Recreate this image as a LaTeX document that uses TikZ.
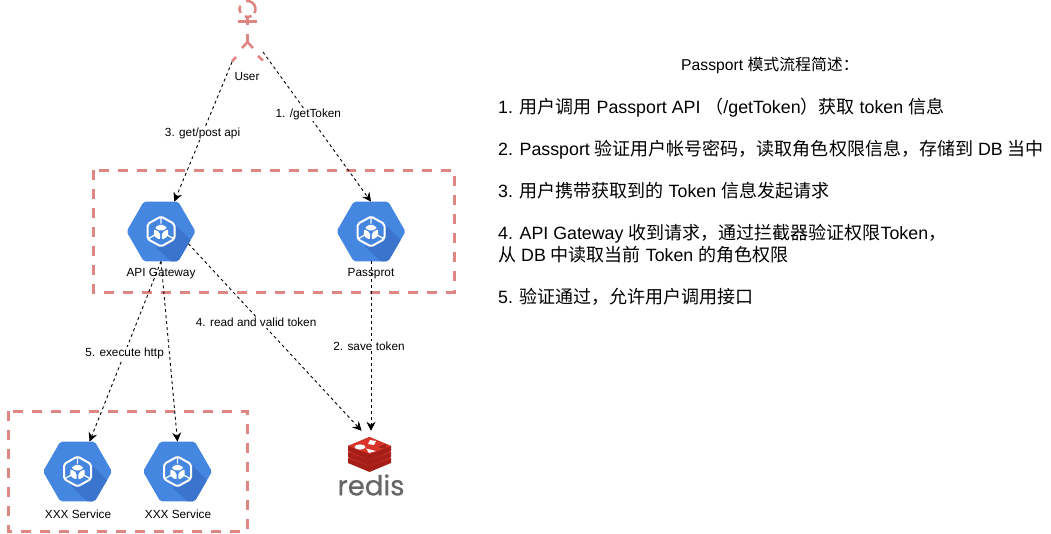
\documentclass[tikz,border=0pt]{standalone}
\usepackage{fontspec}
\setmainfont{Liberation Sans}
\newfontfamily\cjk[Scale=1.012]{Noto Sans CJK SC}
\newfontfamily\logofont[FakeBold=0.5]{Poppins}
\usetikzlibrary{shapes.geometric}
\usetikzlibrary{arrows.meta,positioning}
\definecolor{dashred}{HTML}{DF8682}
\definecolor{hexblue}{HTML}{4586E0}
\definecolor{hexdark}{HTML}{3B74CC}
\definecolor{logored}{HTML}{D8352A}
\definecolor{logodark}{HTML}{A51E18}
\newcommand{\zh}[1]{{\cjk #1}}
\tikzstyle{hex node}=[regular polygon, regular polygon sides=6, minimum size=69pt, inner sep=0pt, outer sep=0pt, fill=hexblue, rounded corners=2pt,
  path picture={
    \begin{scope}[shift={(path picture bounding box.center)}]
      \fill[hexdark] (15,-6) -- (45,24) -- (25,44) -- (-6,15) -- cycle;
      \fill[hexblue] (0,-15) -- (13.5,-7.5) -- (13.5,7.5) -- (0,15) -- (-13.5,7.5) -- (-13.5,-7.5) -- cycle;
      \draw[white, line width=2pt, line join=round] (0,-15) -- (13.5,-7.5) -- (13.5,7.5) -- (0,15) -- (-13.5,7.5) -- (-13.5,-7.5) -- cycle;
      \draw[white, line width=1.3pt] (0,-15) -- (0,-8) (-13.5,7.5) -- (-6,3.5) (13.5,7.5) -- (6,3.5);
      \fill[white] (0,-7.5) -- (6.5,-3.8) -- (0,0) -- (-6.5,-3.8) -- cycle;
      \fill[white] (-7.2,-2.6) -- (-0.8,1.2) -- (-0.8,8.4) -- (-7.2,4.8) -- cycle;
      \fill[white] (7.2,-2.6) -- (0.8,1.2) -- (0.8,8.4) -- (7.2,4.8) -- cycle;
    \end{scope}
  }]
\tikzstyle{group box}=[draw=dashred, line width=3pt, dash pattern=on 10pt off 9pt]
\tikzstyle{user line}=[draw=dashred, line width=2.6pt]
\tikzstyle{small text}=[font=\fontsize{11.8}{14}\selectfont, inner sep=1pt]
\tikzstyle{step text}=[font=\fontsize{17.8}{22}\selectfont, anchor=base west, inner sep=0pt]
\tikzstyle{title text}=[font=\fontsize{15.7}{22}\selectfont, anchor=base west, inner sep=0pt]
\begin{document}
\begin{tikzpicture}[x=1pt,y=-1pt,>={Stealth[length=9pt,width=9pt,inset=3pt]}, node distance=1cm]
  \useasboundingbox (0,0) rectangle (1051,533);

  % groups
  \draw[group box] (93,170) rectangle (454,292);
  \draw[group box] (8,411) rectangle (247,531);

  % user
  \coordinate (userleft) at (232,62);
  \coordinate (userright) at (263,52);
  \draw[user line] (247.5,9) ++(-100:8) arc (-100:30:8);
  \draw[user line] (247.5,9) ++(60:8) arc (60:110:8);
  \draw[user line] (247.5,9) ++(150:8) arc (150:205:8);
  \draw[user line] (238,21.5) -- (257,21.5) (247.5,17) -- (247.5,25) (247.5,34) -- (247.5,43);
  \draw[user line] (247.5,42) -- (242,48) (247.5,42) -- (253,48) (236,57) -- (232,61.5) (258,56) -- (263,60.5);
  \node[small text] (userlabel) at (247,76) {User};

  % services
  \node[hex node] (apigw) at (161,231.5) {};
  \node[small text] (apilabel) at (161,274) {API Gateway};
  \node[hex node] (passport) at (371,231.5) {};
  \node[small text] (passlabel) at (371,274) {Passprot};
  \node[hex node] (svc1) at (77.5,471.5) {};
  \node[small text] (svc1label) at (78,514.5) {XXX Service};
  \node[hex node] (svc2) at (177.5,471.5) {};
  \node[small text] (svc2label) at (178,514.5) {XXX Service};

  % redis
  \node[minimum width=66pt, minimum height=70pt, inner sep=0pt] (redis) at (371,466) {};
  \foreach \ly in {458,452,446} {
    \fill[logodark] (348,\ly) -- (369.5,\ly-9) -- (391,\ly) -- (391,\ly+5) -- (369.5,\ly+14) -- (348,\ly+5) -- cycle;
    \fill[logored] (348,\ly) -- (369.5,\ly-9) -- (391,\ly) -- (369.5,\ly+8) -- cycle;
  }
  \fill[white] (360,447) ellipse (5.5 and 2.6);
  \fill[white] (370,440) -- (376,441) -- (374,445) -- (368,444) -- cycle;
  \fill[white] (369,453) -- (376,451) -- (366,448.5) -- cycle;
  \fill[logodark] (378,447) -- (386,444) -- (386,449) -- cycle;
  \node[font=\logofont\fontsize{27.5}{30}\selectfont, text=black!60, inner sep=0pt] (redistext) at (371,485) {redis};

  % connectors
  \path[->, dashed, line width=0.9pt]
  (userleft) edge node[small text, fill=white, pos=0.51] (getpost) {3. get/post api} (apigw.66)
  (userright) edge node[small text, fill=white, pos=0.42] (gettoken) {1. /getToken} (passport.north)
  (apigw.south) edge node[small text, fill=white, pos=0.51] (exec) {5. execute http} (svc1.68)
  (apigw.south) edge (svc2.north)
  (apigw.-24) edge node[small text, fill=white, pos=0.42, xshift=-5pt] (readtoken) {4. read and valid token} (redis.105)
  (passport.south) edge node[small text, fill=white, pos=0.5, xshift=-2pt] (savetoken) {2. save token} (redis.north);

  % description
  \node[title text] (title) at (681,70) {Passport \zh{模式流程简述：}};
  \node[step text] (s1) at (498,113) {1. \zh{用户调用} Passport API \zh{（}/getToken\zh{）获取} token \zh{信息}};
  \node[step text] (s2) at (498,155) {2. Passport \zh{验证用户帐号密码，读取角色权限信息，存储到} DB \zh{当中}};
  \node[step text] (s3) at (498,197) {3. \zh{用户携带获取到的} Token \zh{信息发起请求}};
  \node[step text] (s4) at (498,239) {4. API Gateway \zh{收到请求，通过拦截器验证权限}Token\zh{，}};
  \node[step text] (s4b) at (498,261) {\zh{从} DB \zh{中读取当前} Token \zh{的角色权限}};
  \node[step text] (s5) at (498,303) {5. \zh{验证通过，允许用户调用接口}};

\end{tikzpicture}
\end{document}
